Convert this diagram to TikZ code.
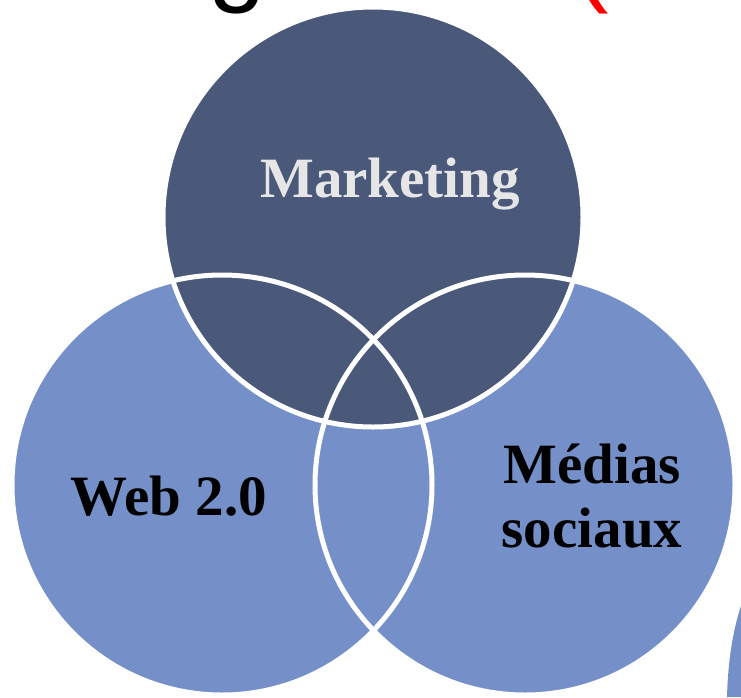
\documentclass[tikz,border=0pt]{standalone}
\usepackage{fontspec}
\setmainfont{Liberation Serif}
\newfontfamily\titlesans{Liberation Sans}
\definecolor{vdark}{RGB}{74,88,121}
\definecolor{vlight}{RGB}{117,144,200}
\definecolor{vtext}{RGB}{230,230,230}
\definecolor{vred}{RGB}{255,0,0}
\begin{document}
\begin{tikzpicture}[x=1pt,y=-1pt,
  sep/.style={draw=white,line width=5pt},
  label/.style={inner sep=0pt,font=\bfseries\fontsize{57}{64}\selectfont,anchor=base,align=center}]
\useasboundingbox (0,0) rectangle (741,697);
\clip (0,0) rectangle (741,697);
% cut-off title
\node[inner sep=0pt,anchor=base west,font=\titlesans\fontsize{104}{110}\selectfont] (tg) at (208,-8) {g};
\node[inner sep=0pt,anchor=base west,font=\titlesans\fontsize{104}{110}\selectfont,text=vred] (tp) at (574,-8) {(};
% circles
\fill[vlight] (222,485) circle[radius=210pt];
\fill[vlight] (525,485) circle[radius=210pt];
\fill[vdark] (373,217) circle[radius=210pt];
\draw[sep] (222,485) circle[radius=210pt];
\draw[sep] (525,485) circle[radius=210pt];
\draw[sep] (373,217) circle[radius=210pt];
% partial shape at lower right edge
\fill[vlight] (741,606) .. controls (733,630) and (728,660) .. (727,697) -- (741,697) -- cycle;
% labels
\node[label,text=vtext] (mk) at (390,197) {Marketing};
\node[label] (web) at (169,515) {Web 2.0};
\node[label] (med) at (592,547) {Médias\\sociaux};
\end{tikzpicture}
\end{document}
